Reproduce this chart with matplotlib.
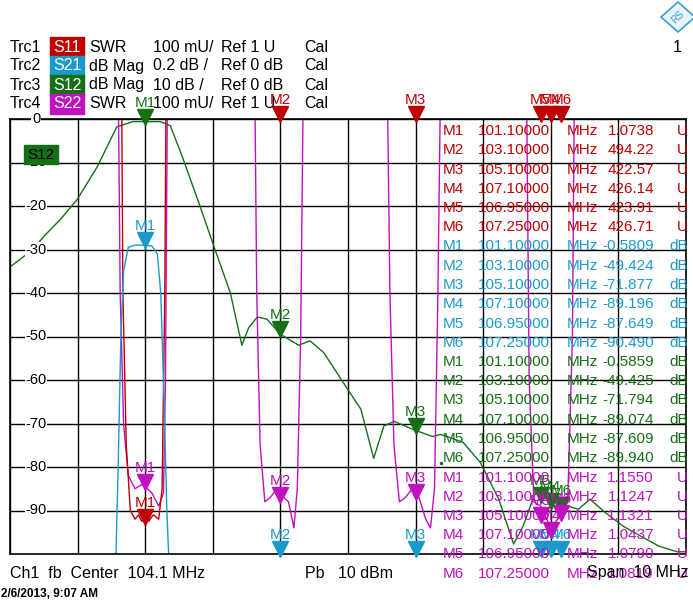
import matplotlib
matplotlib.use("Agg")
import matplotlib.pyplot as plt
from matplotlib import transforms
from matplotlib.patches import Rectangle, RegularPolygon

plt.rcParams['font.family'] = ['Liberation Sans', 'DejaVu Sans']

W, H = 693, 611
RED, BLUE, GREEN, MAG = '#c00000', '#1a9acb', '#157015', '#c010c0'

# frequency axis (MHz) and screen scale (S12 dB grid)
f_start, f_stop = 99.1, 109.1
y_lo, y_hi = -100, 0

s12_f = [99.1, 99.44, 99.6, 99.85, 100.09, 100.39, 100.68, 100.92, 101.32, 101.47, 101.65, 101.91, 102.11, 102.36,
         102.53, 102.63, 102.76, 102.9, 103.1, 103.37, 103.54, 103.74, 104.09, 104.29, 104.48,
         104.63, 104.78, 105.07, 105.35, 105.47, 105.8, 106.06, 106.33, 106.55, 106.69, 106.85,
         106.95, 107.14, 107.35, 107.51, 107.68, 107.9, 108.17, 108.43, 108.7, 108.97, 109.1]
s12_v = [-34, -30, -27, -23, -18.6, -11, -1.8, -0.6, -0.6, -1.5, -8.7, -20, -29, -40,
         -52, -48, -45.5, -46, -49.5, -52, -51, -53.7, -62, -66.7, -78,
         -70.6, -69.5, -71.4, -73, -72.5, -74.3, -79, -87.4, -97.7, -93.6, -86.7,
         -84.6, -86.7, -89, -89.7, -87.4, -90.4, -93.6, -95.9, -98.2, -99.5, -99.5]

s22_notches = [
    ([100.70, 100.73, 100.78, 100.85, 100.95, 101.05, 101.1, 101.2, 101.3, 101.37, 101.40, 101.43],
     [10, -40, -70, -82, -85, -84, -84.5, -86, -89, -86, -60, 10]),
    ([102.72, 102.75, 102.8, 102.87, 102.95, 103.05, 103.15, 103.22, 103.3, 103.35, 103.40, 103.44],
     [10, -40, -75, -88, -87, -85, -87, -88, -94, -85, -50, 10]),
    ([104.68, 104.72, 104.78, 104.86, 104.95, 105.05, 105.15, 105.25, 105.32, 105.38, 105.43, 105.47],
     [10, -40, -75, -88, -87, -85, -87, -92, -94, -85, -40, 10]),
    ([106.74, 106.78, 106.85, 106.95, 107.1, 107.25, 107.35, 107.42, 107.45],
     [10, -60, -88, -89, -94, -91, -88, -50, 10]),
]
s11_f = [100.75, 100.77, 100.82, 100.88, 100.95, 101.0, 101.05, 101.1, 101.15, 101.22, 101.3, 101.35, 101.39, 101.41]
s11_v = [10, -40, -75, -90, -92, -91, -92.5, -91.5, -92.5, -91, -92, -85, -40, 10]
s21_f = [100.66, 100.7, 100.74, 100.78, 100.85, 100.95, 101.1, 101.2, 101.28, 101.33, 101.38, 101.42, 101.46]
s21_v = [-105, -80, -50, -35, -29.5, -29, -29, -29.2, -31, -40, -65, -90, -105]

mk_freq = [101.1, 103.1, 105.1, 107.1, 106.95, 107.25]
mk_freq_txt = ['101.10000', '103.10000', '105.10000', '107.10000', '106.95000', '107.25000']
s11_mk = ['1.0738', '494.22', '422.57', '426.14', '423.91', '426.71']
s21_mk = ['-0.5809', '-49.424', '-71.877', '-89.196', '-87.649', '-90.490']
s12_mk = ['-0.5859', '-49.425', '-71.794', '-89.074', '-87.609', '-89.940']
s22_mk = ['1.1550', '1.1247', '1.1321', '1.0437', '1.0790', '1.0819']

trc_names = ['Trc1', 'Trc2', 'Trc3', 'Trc4']
trc_par = ['S11', 'S21', 'S12', 'S22']
trc_fmt = ['SWR', 'dB Mag', 'dB Mag', 'SWR']
trc_scale = ['100 mU/', '0.2 dB /', '10 dB /', '100 mU/']
trc_ref = ['Ref 1 U', 'Ref 0 dB', 'Ref 0 dB', 'Ref 1 U']
trc_col = [RED, BLUE, GREEN, MAG]
yticks = [0, -10, -20, -30, -40, -50, -60, -70, -80, -90]


def swr_pos(u):
    # SWR 100 mU/div, ref 1 U at bottom line
    return y_lo + (u - 1.0) * 100


def db02_pos(d):
    # 0.2 dB/div, ref 0 dB at top line
    return y_hi + d / 0.2 * 10


def fx(x, y):
    return x / W, 1 - y / H


fig = plt.figure(figsize=(W / 100, H / 100), dpi=100)
L, T, R, B = 10, 119, 686, 554
ax = fig.add_axes([L / W, 1 - B / H, (R - L) / W, (B - T) / H])
ax.set_xlim(f_start, f_stop)
ax.set_ylim(y_lo, y_hi)
ax.set_xticks([f_start + i for i in range(11)])
ax.set_yticks(yticks)
ax.tick_params(length=0, labelleft=False, labelbottom=False)
ax.grid(True, color='black', lw=1)
for s in ax.spines.values():
    s.set_linewidth(1.2)
for t in yticks:
    ax.text(f_start + 26 / 67.6, t, str(t), ha='center', va='center', fontsize=10.5,
            bbox=dict(fc='white', ec='none', pad=0.5), zorder=3)

ax.plot(s12_f, s12_v, color=GREEN, lw=1)
for nf, nv in s22_notches:
    ax.plot(nf, nv, color=MAG, lw=1)
ax.plot(s11_f, s11_v, color=RED, lw=1)
ax.plot(s21_f, s21_v, color=BLUE, lw=1)
ax.plot([105.48], [-79], '.', color=GREEN, ms=3)

ax.add_patch(Rectangle((99.1 + 14 / 67.6, -6), 34 / 67.6, -4.3, color=GREEN, zorder=3))
ax.text(99.1 + 31 / 67.6, -8.2, 'S12', ha='center', va='center', fontsize=11, zorder=4)

# markers: triangle tip at the trace value, label above
tri = transforms.offset_copy(ax.transData, fig, y=5, units='dots')
lab = transforms.offset_copy(ax.transData, fig, y=19, units='dots')


def markers(vals, col, conv):
    for i, (f, v) in enumerate(zip(mk_freq, vals)):
        y = min(max(conv(float(v)), y_lo), y_hi)
        ax.plot(f, y, marker='v', ms=11, color=col, transform=tri, clip_on=False, zorder=5)
        ax.text(f, y, f'M{i + 1}', color=col, ha='center', va='center', fontsize=11,
                transform=lab, clip_on=False, zorder=5)


markers(s11_mk, RED, swr_pos)
markers(s21_mk, BLUE, lambda d: y_lo if d < -10 else db02_pos(d))
markers(s12_mk, GREEN, lambda d: d)
markers(s22_mk, MAG, swr_pos)

# marker table
rows = [(s11_mk, 'U', RED), (s21_mk, 'dB', BLUE), (s12_mk, 'dB', GREEN), (s22_mk, 'U', MAG)]
k = 0
for vals, unit, col in rows:
    for i in range(6):
        y = 131 + k * 19.25
        kw = dict(color=col, fontsize=11, va='center')
        fig.text(*fx(443, y), f'M{i + 1}', **kw)
        fig.text(*fx(478, y), mk_freq_txt[i], **kw)
        fig.text(*fx(567, y), 'MHz', **kw)
        fig.text(*fx(654, y), vals[i], ha='right', **kw)
        fig.text(*fx(688, y), unit, ha='right', **kw)
        k += 1

# header
for i in range(4):
    y = 47 + i * 19
    fig.text(*fx(10, y), trc_names[i], fontsize=11.5, va='center')
    fig.patches.append(Rectangle(fx(50, y + 10), 34 / W, 20 / H, color=trc_col[i], transform=fig.transFigure))
    fig.text(*fx(67, y), trc_par[i], fontsize=11.5, va='center', ha='center', color='white')
    fig.text(*fx(89, y), trc_fmt[i], fontsize=11.5, va='center')
    fig.text(*fx(153, y), trc_scale[i], fontsize=11.5, va='center')
    fig.text(*fx(221, y), trc_ref[i], fontsize=11.5, va='center')
    fig.text(*fx(304, y), 'Cal', fontsize=11.5, va='center')
fig.text(*fx(682, 47), '1', fontsize=11.5, va='center', ha='right')
fig.patches.append(RegularPolygon(fx(678, 17), 4, radius=15 / H, orientation=0,
                                  fc='#e8f4fa', ec='#3aa0d0', lw=1.2, transform=fig.transFigure))
fig.text(*fx(678, 17), 'RS', fontsize=7, ha='center', va='center', color='#3aa0d0', rotation=45)

# footer
fig.text(*fx(10, 573), 'Ch1  fb  Center  104.1 MHz', fontsize=11.5, va='center')
fig.text(*fx(305, 573), 'Pb   10 dBm', fontsize=11.5, va='center')
fig.text(*fx(688, 573), 'Span  10 MHz', fontsize=11.5, va='center', ha='right')
fig.text(*fx(1, 594), '2/6/2013, 9:07 AM', fontsize=8.5, va='center', fontweight='bold')

fig.savefig('out.png', dpi=100)
